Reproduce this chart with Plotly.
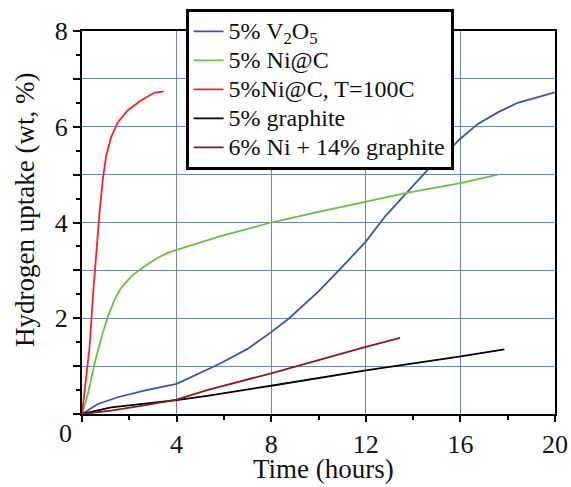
import plotly.graph_objects as go

# ---- data ----
v2o5_t = [0, 0.67, 1.51, 2.63, 4.0, 4.87, 5.82, 7.0, 8.0, 8.76, 10.0, 10.86, 12.0, 12.82, 13.73, 14.71, 15.46, 15.97, 16.74, 17.58, 18.42, 19.26, 19.9, 20.0]
v2o5_h = [0, 0.21, 0.35, 0.49, 0.63, 0.83, 1.05, 1.36, 1.71, 2.0, 2.56, 3.0, 3.6, 4.13, 4.62, 5.15, 5.48, 5.74, 6.06, 6.30, 6.50, 6.62, 6.71, 6.72]

nic_t = [0, 0.25, 0.53, 0.81, 1.09, 1.37, 1.65, 2.07, 2.63, 3.19, 3.61, 4.0, 5.83, 8.0, 10.0, 12.0, 13.73, 16.0, 17.58]
nic_h = [0, 0.42, 1.05, 1.58, 2.03, 2.38, 2.63, 2.87, 3.08, 3.26, 3.36, 3.43, 3.71, 4.0, 4.22, 4.44, 4.62, 4.82, 5.0]

nic100_t = [0, 0.32, 0.46, 0.60, 0.74, 0.88, 1.02, 1.23, 1.51, 1.93, 2.49, 3.05, 3.45]
nic100_h = [0, 1.40, 2.45, 3.36, 4.20, 4.90, 5.39, 5.78, 6.09, 6.34, 6.55, 6.71, 6.74]

graph_t = [0, 1.23, 4.0, 5.29, 8.0, 12.0, 15.95, 17.86]
graph_h = [0, 0.14, 0.29, 0.38, 0.59, 0.91, 1.20, 1.35]

nigr_t = [0, 1.23, 2.63, 4.0, 5.29, 8.0, 12.0, 13.45]
nigr_h = [0, 0.07, 0.18, 0.30, 0.50, 0.85, 1.40, 1.59]

names = ["5% V<sub>2</sub>O<sub>5</sub>", "5% Ni@C", "5%Ni@C, T=100C", "5% graphite", "6% Ni + 14% graphite"]
colors = ["#3a55b0", "#6cc040", "#ff2020", "#000000", "#8b1a1a"]

x_tickvals = [0, 4, 8, 12, 16, 20]
x_ticktext = ["", "4", "8", "12", "16", "20"]
y_tickvals = [0, 1, 2, 3, 4, 5, 6, 7, 8]
y_ticktext = ["", "", "2", "", "4", "", "6", "", "8"]

x_title = "Time (hours)"
y_title = "Hydrogen uptake (wt, %)"

series = [(v2o5_t, v2o5_h), (nic_t, nic_h), (nic100_t, nic100_h), (graph_t, graph_h), (nigr_t, nigr_h)]

fig = go.Figure()
for (t, h), n, c in zip(series, names, colors):
    fig.add_trace(go.Scatter(x=t, y=h, mode="lines",
                             name="<span style='font-size:24px'>" + n + "</span>",
                             line=dict(color=c, width=1.8)))

font = "Times New Roman"
grid = "#6a84c8"
txt = "#111"

fig.update_layout(
    width=571, height=487,
    margin=dict(l=82, r=16, t=30.5, b=72.5, autoexpand=False),
    paper_bgcolor="white", plot_bgcolor="white",
    font=dict(family=font, size=26, color=txt),
    showlegend=True,
    legend=dict(x=0.219, y=1.058, xanchor="left", yanchor="top",
                bgcolor="white", bordercolor="black", borderwidth=3,
                font=dict(family=font, size=20, color=txt),
                itemwidth=30, tracegroupgap=0),
    xaxis=dict(range=[0, 20], tickvals=x_tickvals, ticktext=x_ticktext,
               ticks="outside", ticklen=6, tickwidth=1.5, tickcolor="black",
               minor=dict(tickvals=[2, 6, 10, 14, 18], ticks="outside", ticklen=4, tickcolor="black", showgrid=False),
               showgrid=True, gridcolor=grid, gridwidth=1.3,
               showline=True, linecolor="black", linewidth=2, mirror=True,
               zeroline=False, tickfont=dict(family=font, size=26)),
    yaxis=dict(range=[0, 8], tickvals=y_tickvals, ticktext=y_ticktext,
               ticks="outside", ticklen=7, tickwidth=1.5, tickcolor="black",
               minor=dict(dtick=0.5, ticks="outside", ticklen=4, tickcolor="black", showgrid=False),
               showgrid=True, gridcolor=grid, gridwidth=1.3,
               showline=True, linecolor="black", linewidth=2, mirror=True,
               zeroline=False, tickfont=dict(family=font, size=26)),
    annotations=[
        dict(text="0", xref="paper", yref="paper", x=0, y=-0.0508, xanchor="right", yanchor="middle",
             xshift=-8.5, showarrow=False, font=dict(family=font, size=26, color=txt)),
        dict(text=x_title, xref="paper", yref="paper", x=0.51, y=-0.1445, xanchor="center", yanchor="middle",
             showarrow=False, font=dict(family=font, size=27, color=txt)),
        dict(text=y_title, xref="paper", yref="paper", x=-0.1205, y=0.5326, xanchor="center", yanchor="middle",
             textangle=-90, showarrow=False, font=dict(family=font, size=27, color=txt)),
    ],
)

fig.write_html("out.html", config={"displayModeBar": False},
               post_script="document.body.style.margin='0px';")
